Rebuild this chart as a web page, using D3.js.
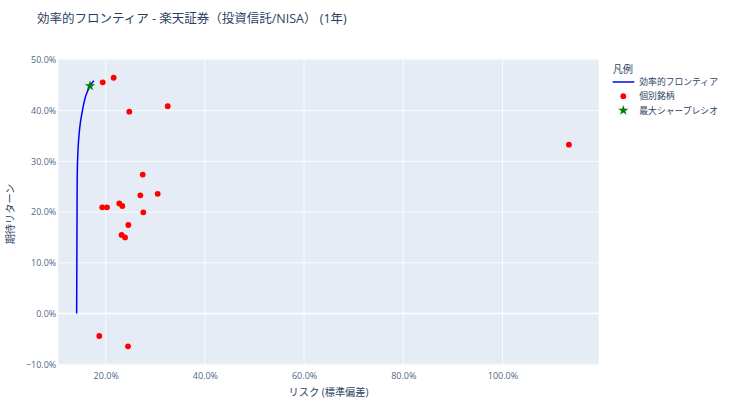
<!DOCTYPE html>
<html>
<head>
<meta charset="utf-8">
<script src="https://cdn.jsdelivr.net/npm/d3@7"></script>
<style>
	body { margin: 0; background: #fff; }
	svg text { font-family: "Open Sans", "Noto Sans CJK JP", verdana, arial, sans-serif; fill: #2a3f5f; }
</style>
</head>
<body>
<svg id="chart"></svg>
<script>

// efficient frontier (risk, return)
var frontierRisk = [0.1414, 0.1416, 0.1418, 0.1420, 0.1422, 0.1424, 0.1427, 0.1432, 0.1440, 0.1460, 0.1487, 0.1530, 0.1560, 0.1600, 0.1665, 0.1705, 0.1760];
var frontierReturn = [0.000, 0.050, 0.100, 0.150, 0.200, 0.250, 0.280, 0.300, 0.320, 0.350, 0.375, 0.400, 0.415, 0.430, 0.445, 0.452, 0.459];

// individual funds
var assetRisk = [0.194, 0.216, 0.2476, 0.325, 1.134, 0.2746, 0.2698, 0.3048, 0.193, 0.2026, 0.2274, 0.2335, 0.2758, 0.2456, 0.232, 0.239, 0.187, 0.245];
var assetReturn = [0.456, 0.465, 0.398, 0.409, 0.333, 0.274, 0.233, 0.236, 0.2095, 0.2095, 0.217, 0.212, 0.1996, 0.1746, 0.155, 0.150, -0.0444, -0.0647];

// max sharpe portfolio
var sharpeRisk = [0.1683];
var sharpeReturn = [0.449];

var xTicks = [0.2, 0.4, 0.6, 0.8, 1.0];
var yTicks = [-0.1, 0, 0.1, 0.2, 0.3, 0.4, 0.5];
var legendLabels = ["効率的フロンティア", "個別銘柄", "最大シャープレシオ"];

var width = 730,
	height = 410,
	margin = { left: 58.3, right: 131.3, top: 59, bottom: 45 };

var svg = d3.select("#chart")
	.attr("width", width)
	.attr("height", height);

var x = d3.scaleLinear()
	.domain([0.1044, 1.194])
	.range([margin.left, width - margin.right]);

var y = d3.scaleLinear()
	.domain([-0.1016, 0.502])
	.range([height - margin.bottom, margin.top]);

var fmt = d3.format(".1%");

svg.append("rect")
	.attr("x", margin.left)
	.attr("y", margin.top)
	.attr("width", width - margin.left - margin.right)
	.attr("height", height - margin.top - margin.bottom)
	.attr("fill", "#e5ecf6");

// grid
var grid = svg.append("g").attr("stroke", "#fff");
grid.selectAll(".gx")
	.data(xTicks)
	.join("line")
	.attr("x1", d => x(d)).attr("x2", d => x(d))
	.attr("y1", margin.top).attr("y2", height - margin.bottom)
	.attr("stroke-width", 0.8);
grid.selectAll(".gy")
	.data(yTicks)
	.join("line")
	.attr("x1", margin.left).attr("x2", width - margin.right)
	.attr("y1", d => y(d)).attr("y2", d => y(d))
	.attr("stroke-width", d => d === 0 ? 1.6 : 0.8);

// axes (labels only, plotly style)
var xAxis = svg.append("g")
	.attr("transform", "translate(0," + (height - margin.bottom) + ")")
	.call(d3.axisBottom(x).tickValues(xTicks).tickFormat(fmt).tickSize(0).tickPadding(8));
var yAxis = svg.append("g")
	.attr("transform", "translate(" + margin.left + ",0)")
	.call(d3.axisLeft(y).tickValues(yTicks).tickFormat(fmt).tickSize(0).tickPadding(2));
[xAxis, yAxis].forEach(function(a) {
	a.select(".domain").remove();
	a.selectAll("text")
		.attr("fill", "#506784")
		.style("fill", "#506784")
		.attr("font-size", 9);
});

// frontier line
var line = d3.line()
	.x((d, i) => x(frontierRisk[i]))
	.y(d => y(d))
	.curve(d3.curveMonotoneY);

svg.append("path")
	.datum(frontierReturn)
	.attr("fill", "none")
	.attr("stroke", "#0000ff")
	.attr("stroke-width", 1.5)
	.attr("d", line);

// assets
svg.append("g")
	.selectAll("circle")
	.data(assetReturn)
	.join("circle")
	.attr("cx", (d, i) => x(assetRisk[i]))
	.attr("cy", d => y(d))
	.attr("r", 2.9)
	.attr("fill", "#ff0000");

// max sharpe
var star = d3.symbol().type(d3.symbolStar).size(34);
svg.append("g")
	.selectAll("path")
	.data(sharpeReturn)
	.join("path")
	.attr("transform", (d, i) => "translate(" + x(sharpeRisk[i]) + "," + y(d) + ")")
	.attr("d", star)
	.attr("fill", "#008000");

// titles
svg.append("text")
	.attr("x", 37)
	.attr("y", 22.5)
	.attr("font-size", 12.5)
	.text("効率的フロンティア - 楽天証券（投資信託/NISA） (1年)");

svg.append("text")
	.attr("x", (margin.left + width - margin.right) / 2)
	.attr("y", 396)
	.attr("text-anchor", "middle")
	.attr("font-size", 10.2)
	.text("リスク (標準偏差)");

svg.append("text")
	.attr("transform", "translate(13.5," + ((margin.top + height - margin.bottom) / 2 + 2) + ") rotate(-90)")
	.attr("text-anchor", "middle")
	.attr("font-size", 10.2)
	.text("期待リターン");

// legend
var legend = svg.append("g").attr("transform", "translate(612,0)");
legend.append("text")
	.attr("x", 0.7).attr("y", 72.5)
	.attr("font-size", 10.2)
	.text("凡例");

var rows = legend.selectAll(".row")
	.data(legendLabels)
	.join("g")
	.attr("transform", (d, i) => "translate(0," + (82 + i * 14.2) + ")");

rows.append("text")
	.attr("x", 27.3)
	.attr("y", 3.2)
	.attr("font-size", 8.8)
	.text(d => d);

rows.filter((d, i) => i === 0).append("line")
	.attr("x1", 0.7).attr("x2", 22.3)
	.attr("stroke", "#0000ff")
	.attr("stroke-width", 1.5);
rows.filter((d, i) => i === 1).append("circle")
	.attr("cx", 11.3)
	.attr("r", 2.9)
	.attr("fill", "#ff0000");
rows.filter((d, i) => i === 2).append("path")
	.attr("transform", "translate(11.3,0)")
	.attr("d", star)
	.attr("fill", "#008000");

</script>
</body>
</html>
